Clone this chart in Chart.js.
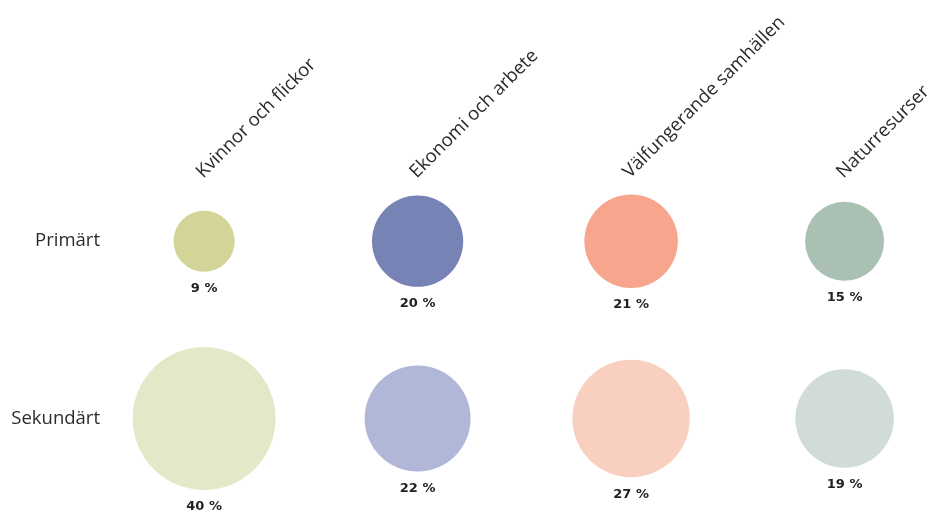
<!DOCTYPE html>
<html lang="sv">
<head>
<meta charset="UTF-8">
<title>Primärt och sekundärt fokus</title>
<style>
  html, body { margin: 0; padding: 0; background: #fff; }
  canvas { display: block; }
</style>
</head>
<body>
<canvas id="chart" width="927" height="513"></canvas>
<script src="https://cdn.jsdelivr.net/npm/chart.js"></script>
<script>
// data
const categories = ['Kvinnor och flickor', 'Ekonomi och arbete', 'Välfungerande samhällen', 'Naturresurser'];
const rowLabels = ['Primärt', 'Sekundärt'];
const primary = [9, 20, 21, 15];
const secondary = [40, 22, 27, 19];

const primaryColors = ['#d3d498', '#7782b5', '#f7a58c', '#a9c0b3'];
const secondaryColors = ['#e5e7c9', '#b0b7d8', '#f9cfc0', '#d0dcd5'];
// each row has its own area scale (radius = k * sqrt(value))
const rowScale = [10.2, 11.3];

function points(values, row) {
  return values.map((v, i) => ({ x: i, y: row, r: rowScale[row] * Math.sqrt(v), v: v }));
}

const percentLabels = {
  id: 'percentLabels',
  afterDatasetsDraw(chart) {
    const ctx = chart.ctx;
    ctx.save();
    ctx.font = 'bold 13px "DejaVu Sans", sans-serif';
    ctx.fillStyle = '#222';
    ctx.textAlign = 'center';
    ctx.textBaseline = 'middle';
    chart.data.datasets.forEach((ds, di) => {
      chart.getDatasetMeta(di).data.forEach((el, i) => {
        const p = ds.data[i];
        ctx.fillText(p.v + ' %', el.x, el.y + p.r + 17);
      });
    });
    ctx.restore();
  }
};

// keep the axes from reserving extra room for overhanging labels
function noPadding(axis) {
  axis.paddingLeft = 0;
  axis.paddingRight = 0;
  axis.paddingTop = 0;
  axis.paddingBottom = 0;
}

new Chart(document.getElementById('chart'), {
  type: 'bubble',
  data: {
    datasets: [
      { label: rowLabels[0], data: points(primary, 0), backgroundColor: primaryColors, borderWidth: 0, hoverBorderWidth: 0 },
      { label: rowLabels[1], data: points(secondary, 1), backgroundColor: secondaryColors, borderWidth: 0, hoverBorderWidth: 0 }
    ]
  },
  options: {
    responsive: false,
    animation: false,
    clip: false,
    layout: { padding: 0, autoPadding: false },
    plugins: { legend: { display: false }, tooltip: { enabled: false } },
    scales: {
      x: {
        type: 'linear',
        position: 'top',
        min: -0.4736,
        max: 3.386,
        grid: { display: false, drawTicks: false },
        border: { display: false },
        afterBuildTicks: axis => { axis.ticks = categories.map((c, i) => ({ value: i })); },
        afterFit: axis => { axis.height = 190; noPadding(axis); },
        ticks: {
          autoSkip: false,
          minRotation: 45,
          maxRotation: 45,
          padding: 7,
          labelOffset: 11,
          color: '#2b2b2b',
          font: { family: '"Open Sans", sans-serif', size: 18.5 },
          callback: v => categories[v]
        }
      },
      y: {
        type: 'linear',
        position: 'left',
        reverse: true,
        min: -0.289,
        max: 1.533,
        grid: { display: false, drawTicks: false },
        border: { display: false },
        afterBuildTicks: axis => { axis.ticks = rowLabels.map((r, i) => ({ value: i })); },
        afterFit: axis => { axis.width = 103; noPadding(axis); },
        ticks: {
          padding: 3,
          color: '#2b2b2b',
          font: { family: '"Open Sans", sans-serif', size: 18.5 },
          callback: v => rowLabels[v]
        }
      }
    }
  },
  plugins: [percentLabels]
});
</script>
</body>
</html>
